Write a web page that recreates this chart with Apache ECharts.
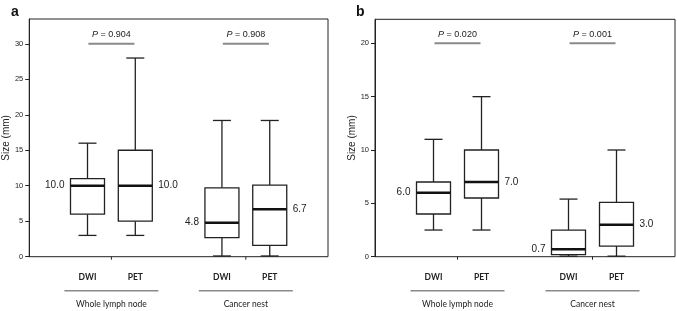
<!DOCTYPE html>
<html>
<head>
<meta charset="utf-8">
<script src="https://cdn.jsdelivr.net/npm/echarts@6/dist/echarts.min.js"></script>
<style>
  html, body { margin: 0; padding: 0; background: #fff; }
  #chart { width: 677px; height: 311px; }
</style>
</head>
<body>
<div id="chart"></div>
<script>
const groups = ["Whole lymph node", "Cancer nest"];
const methods = ["DWI", "PET"];

// [min, q1, median, q3, max] per box: DWI/PET for each group
const sizeA = [
  [3, 6, 10, 11, 16],
  [3, 5, 10, 15, 28],
  [0.1, 2.7, 4.8, 9.7, 19.2],
  [0.1, 1.6, 6.7, 10.1, 19.2],
];
const sizeB = [
  [2.5, 4, 6, 7, 11],
  [2.5, 5.5, 7, 10, 15],
  [0.05, 0.2, 0.7, 2.5, 5.4],
  [0.05, 1, 3, 5.1, 10],
];
const pValuesA = ["0.904", "0.908"];
const pValuesB = ["0.020", "0.001"];
const pLineA = 30;
const pLineB = 20;
const ticksA = [0, 5, 10, 15, 20, 25, 30];
const ticksB = [0, 5, 10, 15, 20];

const groupCenters = [27.5, 72.5];
const offset = 8;
const BOX_W = 34;
const CAP_W = 18;
const INK = "#222";
const FONT = "Liberation Sans";

function boxData(sizes) {
  const rows = [];
  sizes.forEach((s, i) => {
    const g = Math.floor(i / 2), m = i % 2;
    rows.push([groupCenters[g] + (m === 0 ? -offset : offset)].concat(s).concat([m]));
  });
  return rows;
}

function renderBox(params, api) {
  const x = api.coord([api.value(0), 0])[0];
  const y = (v) => api.coord([0, v])[1];
  const yMin = y(api.value(1)), yQ1 = y(api.value(2)), yMed = y(api.value(3));
  const yQ3 = y(api.value(4)), yMax = y(api.value(5));
  const left = api.value(6) === 0;
  const line = { stroke: INK, lineWidth: 1.3 };
  return {
    type: "group",
    children: [
      { type: "line", shape: { x1: x, y1: yQ3, x2: x, y2: yMax }, style: line },
      { type: "line", shape: { x1: x - CAP_W / 2, y1: yMax, x2: x + CAP_W / 2, y2: yMax }, style: line },
      { type: "line", shape: { x1: x, y1: yQ1, x2: x, y2: yMin }, style: line },
      { type: "line", shape: { x1: x - CAP_W / 2, y1: yMin, x2: x + CAP_W / 2, y2: yMin }, style: line },
      { type: "rect", shape: { x: x - BOX_W / 2, y: yQ3, width: BOX_W, height: yQ1 - yQ3 },
        style: { fill: "#fff", stroke: INK, lineWidth: 1.3 } },
      { type: "line", shape: { x1: x - BOX_W / 2, y1: yMed, x2: x + BOX_W / 2, y2: yMed },
        style: { stroke: "#111", lineWidth: 2.5 } },
      { type: "text", x: left ? x - BOX_W / 2 - 6 : x + BOX_W / 2 + 6, y: yMed,
        style: { text: api.value(3).toFixed(1), fill: INK, font: "10px " + FONT,
                 align: left ? "right" : "left", verticalAlign: "middle" } },
    ],
  };
}

function pData(yv) {
  return groupCenters.map((c, i) => [c, yv, i]);
}

function pRenderer(pv) {
  return function (params, api) {
    const p = api.coord([api.value(0), api.value(1)]);
    return {
      type: "group",
      children: [
        { type: "line", shape: { x1: p[0] - 23, y1: p[1], x2: p[0] + 23, y2: p[1] },
          style: { stroke: "#8a8a8a", lineWidth: 2 } },
        { type: "text", x: p[0], y: p[1] - 9,
          style: { text: "{i|P} = " + pv[api.value(2)], fill: INK, font: "9px " + FONT,
                   align: "center", verticalAlign: "middle",
                   rich: { i: { fontStyle: "italic", fontSize: 9, fontFamily: FONT } } } },
      ],
    };
  };
}

function renderGroup(params, api) {
  const c = api.value(0);
  const p = api.coord([c, 0]);
  const xl = api.coord([c - offset, 0])[0], xr = api.coord([c + offset, 0])[0];
  const y0 = p[1];
  const lab = { fill: INK, font: "bold 8.5px Lato", align: "center", verticalAlign: "middle" };
  return {
    type: "group",
    children: [
      { type: "line", shape: { x1: p[0], y1: y0, x2: p[0], y2: y0 + 3 }, style: { stroke: INK, lineWidth: 1 } },
      { type: "text", x: xl, y: y0 + 21, style: Object.assign({ text: methods[0] }, lab) },
      { type: "text", x: xr, y: y0 + 21, style: Object.assign({ text: methods[1] }, lab) },
      { type: "line", shape: { x1: p[0] - 47, y1: y0 + 34, x2: p[0] + 47, y2: y0 + 34 },
        style: { stroke: "#8a8a8a", lineWidth: 1.5 } },
      { type: "text", x: p[0], y: y0 + 48,
        style: { text: groups[api.value(1)], fill: INK, font: "8.5px Lato", align: "center", verticalAlign: "middle" } },
    ],
  };
}

function yAxis(idx, max, ticks, gap) {
  return {
    gridIndex: idx, type: "value", min: 0, max: max,
    name: "Size (mm)", nameLocation: "middle", nameGap: gap, nameRotate: 90,
    nameTextStyle: { fontFamily: FONT, fontSize: 10, color: INK },
    axisLine: { show: true, lineStyle: { color: INK, width: 1 } },
    axisTick: { show: true, length: 4, customValues: ticks, lineStyle: { color: INK } },
    axisLabel: { customValues: ticks, margin: 6, fontFamily: FONT, fontSize: 7.5, color: INK },
    splitLine: { show: false },
  };
}

const chart = echarts.init(document.getElementById("chart"), null, { renderer: "canvas" });
const gData = groups.map((g, i) => [groupCenters[i], i]);

chart.setOption({
  animation: false,
  title: [
    { text: "a", left: 6, top: 0, textStyle: { fontFamily: FONT, fontWeight: "bold", fontSize: 14, color: "#111" } },
    { text: "b", left: 351, top: 0, textStyle: { fontFamily: FONT, fontWeight: "bold", fontSize: 14, color: "#111" } },
  ],
  grid: [
    { left: 27, top: 19, width: 301, height: 237.7, show: true, borderColor: INK, borderWidth: 1 },
    { left: 375, top: 19.3, width: 300, height: 237.4, show: true, borderColor: INK, borderWidth: 1 },
  ],
  xAxis: [
    { gridIndex: 0, type: "value", min: 0, max: 100, show: false },
    { gridIndex: 1, type: "value", min: 0, max: 100, show: false },
  ],
  yAxis: [
    yAxis(0, 33.5, ticksA, 15),
    yAxis(1, 22.25, ticksB, 15),
  ],
  series: [
    { type: "custom", xAxisIndex: 0, yAxisIndex: 0, data: boxData(sizeA), renderItem: renderBox, clip: false },
    { type: "custom", xAxisIndex: 1, yAxisIndex: 1, data: boxData(sizeB), renderItem: renderBox, clip: false },
    { type: "custom", xAxisIndex: 0, yAxisIndex: 0, data: pData(pLineA), renderItem: pRenderer(pValuesA) },
    { type: "custom", xAxisIndex: 1, yAxisIndex: 1, data: pData(pLineB), renderItem: pRenderer(pValuesB) },
    { type: "custom", xAxisIndex: 0, yAxisIndex: 0, data: gData, renderItem: renderGroup, clip: false },
    { type: "custom", xAxisIndex: 1, yAxisIndex: 1, data: gData, renderItem: renderGroup, clip: false },
  ],
});
</script>
</body>
</html>
